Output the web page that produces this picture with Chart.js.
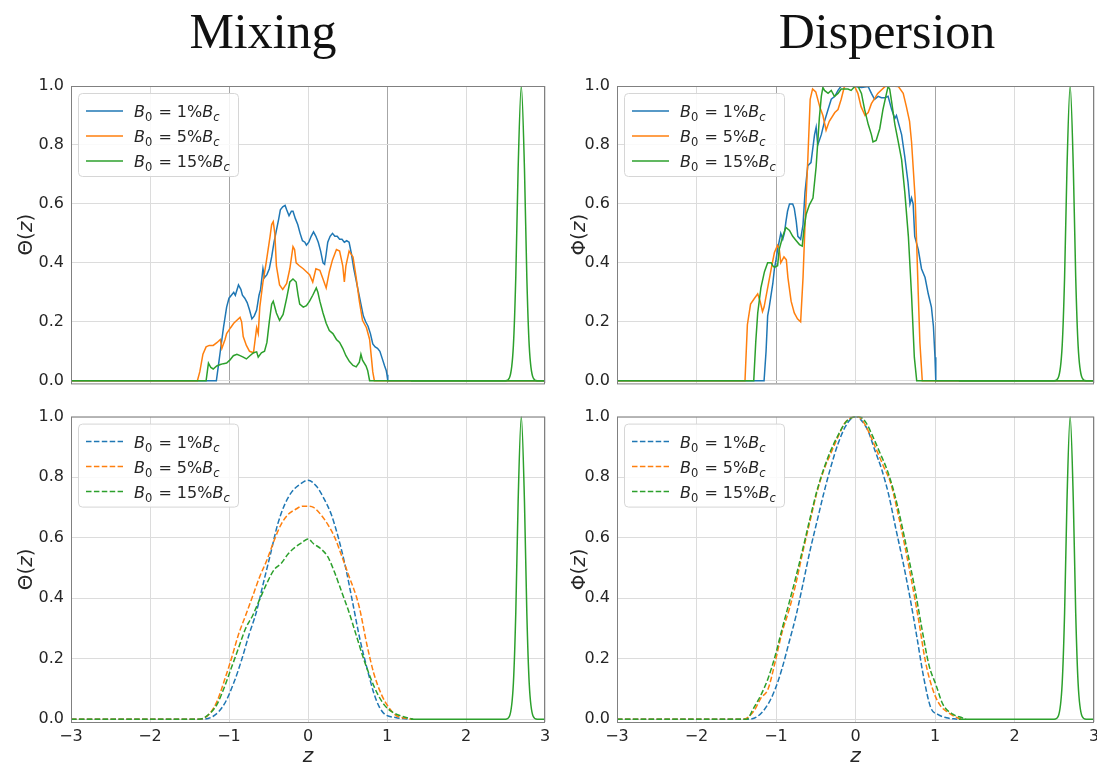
<!DOCTYPE html>
<html>
<head>
<meta charset="utf-8">
<script src="https://cdn.jsdelivr.net/npm/chart.js@4/dist/chart.umd.min.js"></script>
<style>
  html, body { margin: 0; padding: 0; background: #fff; overflow: hidden; width: 1097px; height: 767px; }
  #wrap { position: relative; width: 1097px; height: 767px; overflow: hidden; background: #fff; }
  #wrap canvas { position: absolute; }
  .title { position: absolute; top: 6px; font-family: "Liberation Serif", "Times New Roman", serif;
           font-size: 50px; line-height: 50px; color: #111; transform: translateX(-50%); white-space: nowrap; }
</style>
</head>
<body>
<div id="wrap">
  <div class="title" style="left:263px">Mixing</div>
  <div class="title" style="left:887px">Dispersion</div>
  <canvas id="mixTop"  width="560" height="340" style="left:0;top:60px"></canvas>
  <canvas id="dispTop" width="550" height="340" style="left:560px;top:60px"></canvas>
  <canvas id="mixBot"  width="560" height="367" style="left:0;top:400px"></canvas>
  <canvas id="dispBot" width="550" height="367" style="left:560px;top:400px"></canvas>
</div>
<script>
// ---- series: [z, value] pairs ----
const seriesLabels = ['1', '5', '15'];          // B0 as percent of Bc
const xTickValues = [-3, -2, -1, 0, 1, 2, 3];
const yTickValues = [0, 0.2, 0.4, 0.6, 0.8, 1.0];

// Mixing, solid curves
const mixSolid1 = [[-3,0],[-1.16,0],[-1.13,0.06],[-1.11,0.10],[-1.07,0.18],[-1.03,0.25],[-1.00,0.28],[-0.97,0.29],[-0.94,0.30],[-0.92,0.29],[-0.88,0.325],[-0.85,0.31],[-0.83,0.29],[-0.80,0.28],[-0.77,0.265],[-0.74,0.24],[-0.71,0.21],[-0.68,0.22],[-0.65,0.24],[-0.62,0.29],[-0.60,0.31],[-0.57,0.38],[-0.55,0.35],[-0.52,0.36],[-0.49,0.38],[-0.46,0.42],[-0.43,0.47],[-0.40,0.51],[-0.37,0.55],[-0.35,0.58],[-0.32,0.59],[-0.29,0.595],[-0.27,0.58],[-0.24,0.56],[-0.21,0.575],[-0.19,0.575],[-0.16,0.55],[-0.13,0.53],[-0.10,0.50],[-0.07,0.475],[-0.04,0.47],[-0.02,0.46],[0.01,0.47],[0.04,0.49],[0.07,0.505],[0.10,0.49],[0.13,0.47],[0.16,0.44],[0.19,0.40],[0.21,0.395],[0.23,0.43],[0.25,0.47],[0.28,0.49],[0.31,0.50],[0.34,0.49],[0.37,0.49],[0.40,0.48],[0.43,0.48],[0.46,0.47],[0.49,0.475],[0.52,0.47],[0.55,0.43],[0.58,0.38],[0.61,0.34],[0.64,0.30],[0.67,0.26],[0.70,0.22],[0.73,0.20],[0.76,0.185],[0.79,0.16],[0.82,0.125],[0.85,0.115],[0.88,0.11],[0.91,0.10],[0.94,0.075],[0.97,0.05],[0.99,0.035],[1.00,0.02],[1.01,0],[3,0]];
const mixSolid5 = [[-3,0],[-1.40,0],[-1.37,0.03],[-1.33,0.09],[-1.29,0.115],[-1.25,0.12],[-1.20,0.12],[-1.15,0.13],[-1.11,0.14],[-1.09,0.11],[-1.05,0.14],[-1.03,0.16],[-0.98,0.18],[-0.94,0.195],[-0.90,0.205],[-0.86,0.215],[-0.84,0.20],[-0.82,0.15],[-0.78,0.12],[-0.74,0.10],[-0.69,0.095],[-0.65,0.18],[-0.63,0.16],[-0.61,0.25],[-0.57,0.335],[-0.53,0.40],[-0.48,0.49],[-0.46,0.53],[-0.44,0.54],[-0.42,0.50],[-0.40,0.39],[-0.36,0.325],[-0.32,0.31],[-0.27,0.33],[-0.23,0.38],[-0.19,0.455],[-0.17,0.445],[-0.15,0.40],[-0.11,0.39],[-0.06,0.38],[-0.02,0.37],[0.02,0.36],[0.06,0.335],[0.10,0.38],[0.15,0.375],[0.19,0.345],[0.23,0.315],[0.27,0.37],[0.31,0.41],[0.36,0.445],[0.40,0.44],[0.44,0.39],[0.46,0.335],[0.48,0.39],[0.52,0.44],[0.57,0.42],[0.61,0.35],[0.65,0.27],[0.69,0.205],[0.74,0.18],[0.78,0.14],[0.80,0.085],[0.82,0.03],[0.84,0],[3,0]];
const mixSolid15 = [[-3,0],[-1.29,0],[-1.27,0.04],[-1.26,0.06],[-1.23,0.045],[-1.20,0.04],[-1.155,0.05],[-1.11,0.055],[-1.07,0.058],[-1.03,0.06],[-0.99,0.07],[-0.945,0.085],[-0.90,0.09],[-0.86,0.085],[-0.82,0.08],[-0.78,0.074],[-0.735,0.085],[-0.69,0.095],[-0.65,0.098],[-0.63,0.08],[-0.59,0.095],[-0.55,0.10],[-0.52,0.13],[-0.49,0.20],[-0.46,0.26],[-0.44,0.27],[-0.42,0.25],[-0.40,0.23],[-0.36,0.205],[-0.315,0.225],[-0.27,0.28],[-0.23,0.335],[-0.19,0.345],[-0.15,0.335],[-0.125,0.29],[-0.105,0.26],[-0.06,0.25],[-0.02,0.255],[0.02,0.27],[0.06,0.29],[0.105,0.315],[0.125,0.30],[0.15,0.27],[0.19,0.23],[0.23,0.195],[0.27,0.17],[0.315,0.16],[0.36,0.14],[0.40,0.13],[0.44,0.11],[0.48,0.085],[0.525,0.065],[0.57,0.052],[0.61,0.047],[0.65,0.063],[0.67,0.09],[0.69,0.07],[0.735,0.05],[0.755,0.035],[0.78,0],[3,0]];

// Dispersion, solid curves
const dispSolid1 = [[-3,0],[-1.15,0],[-1.125,0.10],[-1.105,0.22],[-1.085,0.25],[-1.06,0.295],[-1.04,0.33],[-1.02,0.38],[-1.0,0.41],[-0.98,0.445],[-0.94,0.50],[-0.915,0.48],[-0.895,0.50],[-0.875,0.54],[-0.855,0.575],[-0.83,0.60],[-0.79,0.60],[-0.77,0.585],[-0.745,0.54],[-0.725,0.49],[-0.69,0.48],[-0.66,0.53],[-0.635,0.64],[-0.60,0.73],[-0.56,0.74],[-0.515,0.835],[-0.495,0.86],[-0.475,0.80],[-0.43,0.835],[-0.39,0.88],[-0.345,0.92],[-0.305,0.955],[-0.26,0.965],[-0.22,0.985],[-0.18,1.0],[-0.095,1.0],[-0.01,0.998],[0.075,0.995],[0.16,0.998],[0.20,0.975],[0.24,0.955],[0.285,0.965],[0.325,0.96],[0.37,0.96],[0.41,0.965],[0.455,0.92],[0.495,0.89],[0.515,0.90],[0.535,0.88],[0.58,0.835],[0.62,0.76],[0.66,0.675],[0.685,0.60],[0.705,0.62],[0.725,0.60],[0.745,0.49],[0.79,0.445],[0.83,0.38],[0.875,0.35],[0.915,0.295],[0.955,0.25],[0.98,0.185],[1.0,0.08],[1.01,0],[3,0]];
const dispSolid5 = [[-3,0],[-1.39,0],[-1.36,0.19],[-1.32,0.26],[-1.27,0.28],[-1.23,0.295],[-1.20,0.27],[-1.17,0.235],[-1.15,0.25],[-1.105,0.315],[-1.06,0.38],[-1.02,0.435],[-0.98,0.46],[-0.96,0.45],[-0.94,0.40],[-0.90,0.42],[-0.87,0.41],[-0.85,0.35],[-0.81,0.27],[-0.77,0.23],[-0.73,0.21],[-0.69,0.20],[-0.66,0.35],[-0.63,0.565],[-0.60,0.75],[-0.57,0.955],[-0.54,0.99],[-0.50,0.98],[-0.45,0.93],[-0.41,0.90],[-0.37,0.85],[-0.33,0.88],[-0.26,0.91],[-0.22,0.92],[-0.18,0.955],[-0.14,0.998],[-0.07,1.0],[-0.01,0.998],[0.03,0.975],[0.07,0.93],[0.12,0.90],[0.16,0.91],[0.20,0.94],[0.28,0.975],[0.37,0.998],[0.45,1.0],[0.54,0.998],[0.60,0.975],[0.64,0.93],[0.68,0.88],[0.705,0.81],[0.75,0.62],[0.77,0.46],[0.79,0.29],[0.81,0.13],[0.84,0],[3,0]];
const dispSolid15 = [[-3,0],[-1.28,0],[-1.255,0.13],[-1.23,0.23],[-1.19,0.315],[-1.145,0.37],[-1.105,0.40],[-1.06,0.40],[-1.04,0.39],[-1.02,0.385],[-0.98,0.39],[-0.96,0.445],[-0.915,0.49],[-0.875,0.52],[-0.83,0.51],[-0.79,0.49],[-0.745,0.475],[-0.705,0.462],[-0.67,0.457],[-0.65,0.51],[-0.62,0.565],[-0.58,0.597],[-0.535,0.62],[-0.495,0.727],[-0.455,0.89],[-0.43,0.965],[-0.41,0.995],[-0.39,0.985],[-0.345,0.975],[-0.305,0.985],[-0.265,0.965],[-0.22,0.975],[-0.18,0.99],[-0.095,0.99],[-0.055,0.985],[-0.01,0.998],[0.03,1.0],[0.075,0.975],[0.115,0.92],[0.16,0.87],[0.20,0.835],[0.22,0.81],[0.26,0.815],[0.305,0.855],[0.345,0.92],[0.39,0.975],[0.41,0.998],[0.43,0.99],[0.455,0.945],[0.495,0.87],[0.535,0.815],[0.58,0.75],[0.62,0.64],[0.665,0.49],[0.705,0.29],[0.74,0.08],[0.77,0],[3,0]];

// Mixing, dashed curves
const mixDash1 = [[-3,0],[-1.38,0],[-1.2,0.01],[-1.06,0.05],[-0.93,0.127],[-0.836,0.20],[-0.746,0.28],[-0.655,0.353],[-0.565,0.45],[-0.474,0.547],[-0.384,0.644],[-0.294,0.71],[-0.203,0.752],[-0.113,0.774],[0,0.79],[0.113,0.768],[0.2,0.73],[0.294,0.677],[0.384,0.60],[0.474,0.504],[0.565,0.386],[0.655,0.267],[0.746,0.17],[0.836,0.084],[0.904,0.04],[0.97,0.017],[1.107,0.006],[1.29,0]];
const mixDash5 = [[-3,0],[-1.38,0],[-1.24,0.02],[-1.15,0.06],[-1.06,0.127],[-0.97,0.20],[-0.88,0.28],[-0.79,0.343],[-0.70,0.407],[-0.61,0.472],[-0.52,0.526],[-0.43,0.59],[-0.34,0.644],[-0.25,0.677],[-0.16,0.693],[-0.07,0.704],[0,0.704],[0.07,0.70],[0.16,0.677],[0.25,0.644],[0.34,0.60],[0.43,0.537],[0.52,0.472],[0.61,0.407],[0.655,0.364],[0.746,0.246],[0.836,0.149],[0.926,0.084],[1.017,0.041],[1.107,0.014],[1.24,0.003],[1.33,0]];
const mixDash15 = [[-3,0],[-1.38,0],[-1.24,0.02],[-1.15,0.05],[-1.06,0.105],[-0.97,0.17],[-0.88,0.235],[-0.79,0.30],[-0.70,0.343],[-0.61,0.397],[-0.52,0.45],[-0.43,0.494],[-0.34,0.515],[-0.25,0.547],[-0.16,0.569],[-0.07,0.585],[0,0.596],[0.07,0.58],[0.16,0.564],[0.25,0.537],[0.34,0.483],[0.43,0.418],[0.52,0.353],[0.61,0.278],[0.70,0.203],[0.79,0.138],[0.88,0.084],[0.97,0.046],[1.06,0.025],[1.2,0.009],[1.33,0]];

// Dispersion, dashed curves
const dispDash1 = [[-3,0],[-1.37,0],[-1.23,0.01],[-1.10,0.05],[-1.01,0.10],[-0.925,0.167],[-0.837,0.253],[-0.75,0.34],[-0.66,0.448],[-0.573,0.556],[-0.485,0.653],[-0.396,0.75],[-0.308,0.836],[-0.22,0.91],[-0.132,0.965],[-0.044,0.996],[0,1.0],[0.066,0.99],[0.154,0.955],[0.242,0.89],[0.33,0.825],[0.42,0.739],[0.507,0.63],[0.595,0.523],[0.683,0.405],[0.77,0.275],[0.86,0.135],[0.947,0.038],[1.035,0.016],[1.145,0.005],[1.28,0]];
const dispDash5 = [[-3,0],[-1.41,0],[-1.28,0.027],[-1.19,0.07],[-1.10,0.10],[-1.01,0.19],[-0.925,0.286],[-0.837,0.36],[-0.75,0.448],[-0.66,0.556],[-0.573,0.653],[-0.485,0.75],[-0.396,0.825],[-0.308,0.88],[-0.22,0.933],[-0.132,0.98],[-0.044,0.997],[0.022,1.0],[0.088,0.987],[0.176,0.944],[0.264,0.89],[0.352,0.836],[0.44,0.782],[0.53,0.685],[0.617,0.577],[0.705,0.458],[0.793,0.329],[0.881,0.189],[0.97,0.10],[1.057,0.049],[1.167,0.022],[1.28,0.005],[1.34,0]];
const dispDash15 = [[-3,0],[-1.37,0],[-1.28,0.038],[-1.19,0.08],[-1.10,0.135],[-1.01,0.21],[-0.925,0.297],[-0.837,0.383],[-0.75,0.47],[-0.66,0.566],[-0.573,0.663],[-0.485,0.755],[-0.396,0.83],[-0.308,0.89],[-0.22,0.938],[-0.132,0.978],[-0.044,0.997],[0.044,1.0],[0.132,0.98],[0.22,0.933],[0.308,0.88],[0.396,0.825],[0.485,0.75],[0.573,0.653],[0.66,0.545],[0.75,0.426],[0.837,0.297],[0.925,0.178],[1.013,0.113],[1.1,0.049],[1.23,0.016],[1.34,0.005],[1.39,0]];

// Narrow peak near z = 2.7, present in every panel
const peakCurve = [[1.3,0],[2.5,0],[2.55,0.01],[2.6,0.12],[2.63,0.35],[2.66,0.72],[2.70,1.0],[2.74,0.72],[2.77,0.35],[2.8,0.12],[2.85,0.01],[2.9,0],[3,0]];

const colors = ['#1f77b4', '#ff7f0e', '#2ca02c'];
const DASH = [5.5, 2.4];
const FONT = '"DejaVu Sans", "Liberation Sans", sans-serif';

Chart.defaults.font.family = FONT;
Chart.defaults.color = '#262626';

const toXY = pairs => pairs.map(([x, y]) => ({ x, y }));

// frame drawn over the curves, like axis spines
const framePlugin = {
  id: 'frame',
  afterDatasetsDraw(chart) {
    const a = chart.chartArea, ctx = chart.ctx;
    ctx.save();
    ctx.strokeStyle = '#808080';
    ctx.lineWidth = 1;
    ctx.strokeRect(a.left + 0.5, a.top + 0.5, a.right - a.left - 1, a.bottom - a.top);
    ctx.restore();
  }
};

// B_0 = n% B_c label with sub-scripts
function drawMathLabel(ctx, x, y, pct) {
  ctx.font = 'italic 16px ' + FONT;
  ctx.fillText('B', x, y); x += ctx.measureText('B').width;
  ctx.font = '11.5px ' + FONT;
  ctx.fillText('0', x, y + 4); x += ctx.measureText('0').width + 1;
  ctx.font = '16px ' + FONT;
  const mid = ' = ' + pct + '%';
  ctx.fillText(mid, x, y); x += ctx.measureText(mid).width;
  ctx.font = 'italic 16px ' + FONT;
  ctx.fillText('B', x, y); x += ctx.measureText('B').width;
  ctx.font = 'italic 11.5px ' + FONT;
  ctx.fillText('c', x, y + 4);
}

const legendPlugin = {
  id: 'mathLegend',
  afterDraw(chart, args, opts) {
    const a = chart.chartArea, ctx = chart.ctx;
    const bx = a.left + opts.dx, by = a.top + 7, bw = 160, bh = 83;
    ctx.save();
    ctx.beginPath();
    ctx.roundRect(bx + 0.5, by + 0.5, bw, bh, 4);
    ctx.fillStyle = 'rgba(255,255,255,0.85)';
    ctx.fill();
    ctx.strokeStyle = '#d6d6d6';
    ctx.lineWidth = 1;
    ctx.stroke();
    seriesLabels.forEach((pct, i) => {
      const cy = by + 18 + i * 25;
      ctx.beginPath();
      ctx.setLineDash(opts.dashed ? DASH : []);
      ctx.strokeStyle = colors[i];
      ctx.lineWidth = 1.5;
      ctx.moveTo(bx + 8, cy);
      ctx.lineTo(bx + 45, cy);
      ctx.stroke();
      ctx.setLineDash([]);
      ctx.fillStyle = '#262626';
      ctx.textBaseline = 'alphabetic';
      drawMathLabel(ctx, bx + 56, cy + 6, pct);
    });
    ctx.restore();
  }
};

// rotated y label: Greek letter, "(", italic z, ")"
const yLabelPlugin = {
  id: 'yLabel',
  afterDraw(chart, args, opts) {
    const a = chart.chartArea, ctx = chart.ctx;
    const parts = [[opts.letter + '(', ''], ['z', 'italic '], [')', '']];
    ctx.save();
    ctx.translate(opts.x, (a.top + a.bottom) / 2);
    ctx.rotate(-Math.PI / 2);
    ctx.fillStyle = '#262626';
    ctx.textBaseline = 'middle';
    let total = 0;
    parts.forEach(([t, s]) => { ctx.font = s + '20px ' + FONT; total += ctx.measureText(t).width; });
    let x = -total / 2;
    parts.forEach(([t, s]) => { ctx.font = s + '20px ' + FONT; ctx.fillText(t, x, 0); x += ctx.measureText(t).width; });
    ctx.restore();
  }
};

function makePanel(id, cfg) {
  const datasets = cfg.series.map((s, i) => ({
    label: seriesLabels[i],
    data: toXY(s),
    borderColor: colors[i],
    borderWidth: 1.5,
    borderDash: cfg.dashed ? DASH : [],
    cubicInterpolationMode: cfg.dashed ? 'monotone' : 'default',
    tension: 0,
    pointRadius: 0,
    fill: false,
    order: 3 - i
  }));
  datasets.push({
    label: 'peak',
    data: toXY(peakCurve),
    borderColor: colors[2],
    borderWidth: 1.5,
    cubicInterpolationMode: 'monotone',
    pointRadius: 0,
    fill: false,
    order: 0
  });

  new Chart(document.getElementById(id), {
    type: 'line',
    data: { datasets },
    plugins: [framePlugin, legendPlugin, yLabelPlugin],
    options: {
      responsive: false,
      animation: false,
      devicePixelRatio: 1,
      events: [],
      layout: { padding: { top: cfg.padTop, right: cfg.padRight, bottom: 0, left: 0 } },
      plugins: {
        legend: { display: false },
        tooltip: { enabled: false },
        mathLegend: { dashed: cfg.dashed, dx: 7 },
        yLabel: { letter: cfg.letter, x: cfg.yLabelX }
      },
      scales: {
        x: {
          type: 'linear',
          min: -3, max: 3,
          afterBuildTicks: s => { s.ticks = xTickValues.map(v => ({ value: v })); },
          afterFit: s => { s.height = cfg.xHeight; },
          border: { display: false },
          grid: {
            drawTicks: false,
            lineWidth: 1,
            color: c => (cfg.darkUnit && c.tick && Math.abs(Math.abs(c.tick.value) - 1) < 1e-9) ? '#a6a6a6' : '#dcdcdc'
          },
          ticks: {
            display: cfg.showX,
            padding: 5,
            font: { size: 16 },
            color: '#262626',
            maxRotation: 0,
            callback: v => (v < 0 ? '\u2212' + Math.abs(v) : String(v))
          },
          title: {
            display: cfg.showX,
            text: 'z',
            color: '#262626',
            padding: 0,
            font: { size: 20, style: 'italic', lineHeight: 1 }
          }
        },
        y: {
          type: 'linear',
          min: -0.009, max: 1.0,
          afterBuildTicks: s => { s.ticks = yTickValues.map(v => ({ value: v })); },
          afterFit: s => { s.width = cfg.yWidth; },
          border: { display: false },
          grid: { drawTicks: false, lineWidth: 1, color: '#dcdcdc' },
          ticks: {
            padding: 7,
            font: { size: 16 },
            color: '#262626',
            callback: v => Number(v).toFixed(1)
          }
        }
      }
    }
  });
}

makePanel('mixTop',  { series: [mixSolid1, mixSolid5, mixSolid15],    dashed: false, letter: '\u0398', yLabelX: 27, yWidth: 71, padTop: 26, padRight: 15, xHeight: 5,  showX: false, darkUnit: true });
makePanel('dispTop', { series: [dispSolid1, dispSolid5, dispSolid15], dashed: false, letter: '\u03A6', yLabelX: 20, yWidth: 57, padTop: 26, padRight: 16, xHeight: 5,  showX: false, darkUnit: true });
makePanel('mixBot',  { series: [mixDash1, mixDash5, mixDash15],       dashed: true,  letter: '\u0398', yLabelX: 27, yWidth: 71, padTop: 12, padRight: 15, xHeight: 45, showX: true,  darkUnit: false });
makePanel('dispBot', { series: [dispDash1, dispDash5, dispDash15],    dashed: true,  letter: '\u03A6', yLabelX: 20, yWidth: 57, padTop: 12, padRight: 16, xHeight: 45, showX: true,  darkUnit: false });
</script>
</body>
</html>
